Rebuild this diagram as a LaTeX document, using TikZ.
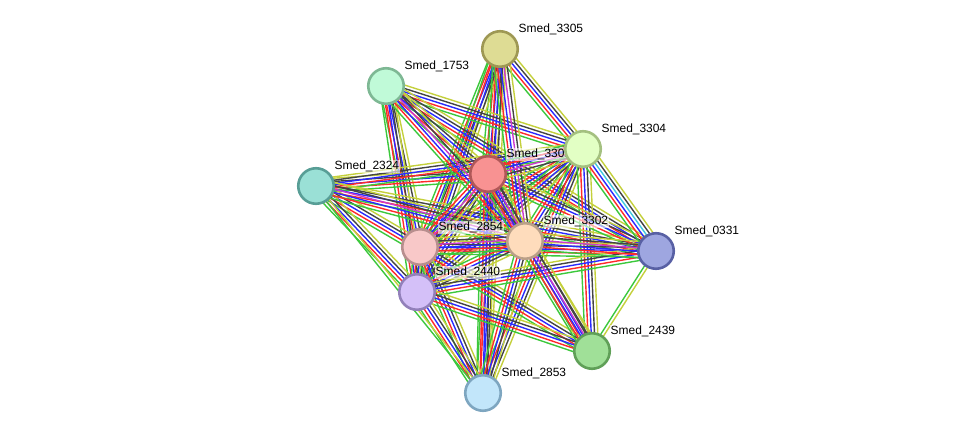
\documentclass[tikz,border=0pt]{standalone}
\usepackage{fontspec}
\setmainfont{Liberation Sans}
\usetikzlibrary{calc,backgrounds}

% evidence colours
\definecolor{eg}{HTML}{3CC83C}
\definecolor{er}{HTML}{FF2A2A}
\definecolor{eb}{HTML}{2A2AFF}
\definecolor{em}{HTML}{CC3ACC}
\definecolor{ec}{HTML}{40C8E0}
\definecolor{ek}{HTML}{444444}
\definecolor{ey}{HTML}{C4D03C}

% one bundle of parallel lines between two proteins
\newcommand\ppiedge[3]{%
  \foreach \ec [count=\ei] in {#3} {\xdef\ecount{\ei}}%
  \foreach \ec [count=\ei] in {#3} {%
    \pgfmathsetmacro\eoff{(\ei-(\ecount+1)/2)*3.3}%
    \draw[ppiline,\ec] ($(#1)!\eoff pt!90:(#2)$) -- ($(#2)!\eoff pt!-90:(#1)$);
  }%
}

\begin{document}
\begin{tikzpicture}[x=1bp,y=-1bp,
    prot/.style={circle,minimum size=35.5bp,inner sep=0pt,line width=2.6bp},
    lbl/.style={font=\fontsize{12}{14}\selectfont,inner sep=1bp,xshift=4bp,yshift=-1bp,
      fill=white,fill opacity=0.6,text opacity=1},
    ppiline/.style={line width=1.4bp}
  ]
  \useasboundingbox (0,0) rectangle (976,439);

  % proteins
  \node[prot,fill={rgb,255:red,222;green,220;blue,148},draw={rgb,255:red,158;green,152;blue,84},label={[lbl]45:Smed\_3305}] (n3305) at (500,49) {};
  \node[prot,fill={rgb,255:red,192;green,250;blue,216},draw={rgb,255:red,126;green,184;blue,148},label={[lbl]45:Smed\_1753}] (n1753) at (386,86) {};
  \node[prot,fill={rgb,255:red,248;green,146;blue,146},draw={rgb,255:red,176;green,88;blue,88},label={[lbl]45:Smed\_3303}] (n3303) at (488,174) {};
  \node[prot,fill={rgb,255:red,226;green,255;blue,196},draw={rgb,255:red,164;green,192;blue,128},label={[lbl]45:Smed\_3304}] (n3304) at (583,149) {};
  \node[prot,fill={rgb,255:red,154;green,224;blue,214},draw={rgb,255:red,88;green,158;blue,150},label={[lbl]45:Smed\_2324}] (n2324) at (316,186) {};
  \node[prot,fill={rgb,255:red,212;green,192;blue,248},draw={rgb,255:red,146;green,128;blue,186},label={[lbl]45:Smed\_2440}] (n2440) at (417,292) {};
  \node[prot,fill={rgb,255:red,248;green,200;blue,200},draw={rgb,255:red,184;green,142;blue,142},label={[lbl]45:Smed\_2854}] (n2854) at (420,247) {};
  \node[prot,fill={rgb,255:red,254;green,220;blue,188},draw={rgb,255:red,186;green,160;blue,136},label={[lbl]45:Smed\_3302}] (n3302) at (525,241) {};
  \node[prot,fill={rgb,255:red,158;green,166;blue,224},draw={rgb,255:red,88;green,96;blue,164},label={[lbl]45:Smed\_0331}] (n0331) at (656,251) {};
  \node[prot,fill={rgb,255:red,160;green,224;blue,152},draw={rgb,255:red,96;green,160;blue,88},label={[lbl]45:Smed\_2439}] (n2439) at (592,351) {};
  \node[prot,fill={rgb,255:red,194;green,230;blue,250},draw={rgb,255:red,126;green,166;blue,192},label={[lbl]45:Smed\_2853}] (n2853) at (483,393) {};

  % interactions
  \begin{scope}[on background layer]
    \foreach \a/\b in {n3305/n3304,n3305/n3303,n3305/n2854,n3305/n2440,n3305/n2853,
                       n1753/n3304,n1753/n0331,n1753/n3303,n1753/n2854,n1753/n2440,
                       n3304/n3302,n3304/n2854,n3304/n2440,n3304/n2853,n3304/n2439,
                       n2324/n3303,n2324/n3304,n2324/n2854,n2324/n2440,n2324/n0331,
                       n3303/n2440,n3303/n2853,n3303/n2439,n3303/n0331,
                       n2854/n0331,n2854/n2440,n2854/n2439,n2854/n2853,
                       n3302/n2440,n3302/n2853,
                       n2440/n0331,n2440/n2439,n2440/n2853}
      \ppiedge{\a}{\b}{eg,er,eb,ek,ey};
    \foreach \a/\b in {n3305/n3302,n1753/n3302,n3304/n3303,n2324/n3302,
                       n3303/n2854,n3303/n3302,n2854/n3302,n3302/n0331,n3302/n2439}
      \ppiedge{\a}{\b}{eg,er,eb,em,ek,ey};
    \ppiedge{n3304}{n0331}{eg,er,eb,ec,ek,ey};
    \ppiedge{n2324}{n2853}{eg,ey};
    \ppiedge{n0331}{n2439}{eg,ey};
  \end{scope}
\end{tikzpicture}
\end{document}
